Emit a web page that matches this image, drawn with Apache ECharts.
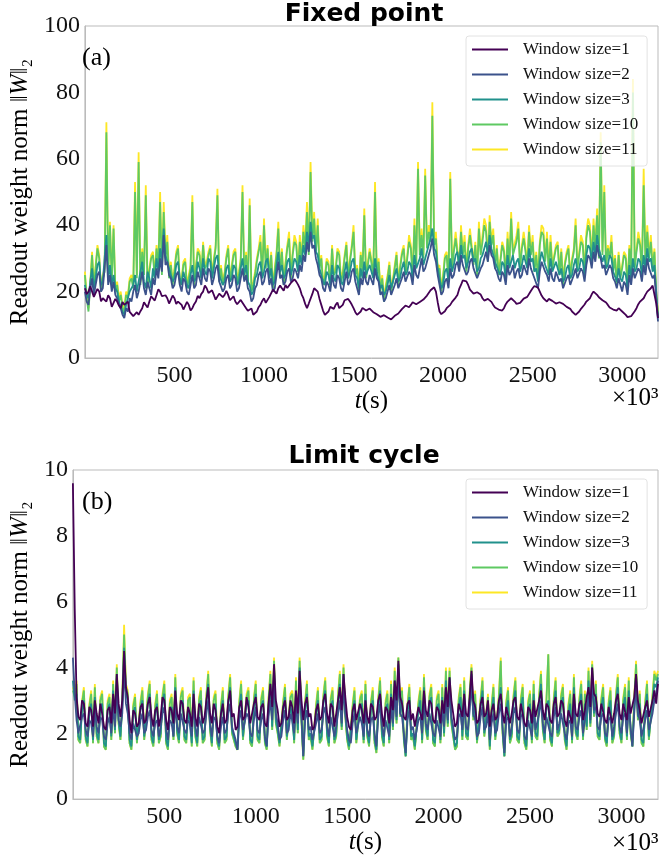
<!DOCTYPE html>
<html>
<head>
<meta charset="utf-8">
<script src="https://cdn.jsdelivr.net/npm/echarts@6/dist/echarts.min.js"></script>
<style>
  html, body { margin: 0; padding: 0; background: #fff; }
  #chart { width: 661px; height: 856px; }
</style>
</head>
<body>
<div id="chart"></div>
<script>
// time step between samples (units of 10^3 s)
const tStep = 10;
const names = ['Window size=1', 'Window size=2', 'Window size=3', 'Window size=10', 'Window size=11'];
const colors = ['#440154', '#3b528b', '#21918c', '#5ec962', '#fde725'];
const xTicks = [500, 1000, 1500, 2000, 2500, 3000];

// (a) fixed point
const fp1 = [
  21,19.2,20,21.6,21,18.4,19,20.8,20,17.1,18,17.9,17,18.9,18,15.4,16,17.8,17,15.8,
  15,16.9,16,15.6,17,13.9,14,12.6,12,13.8,13,14.1,15,16.8,16,15.2,17,18.6,18,17.3,
  19,20.7,20,18.6,19,18.9,18,16.4,17,18.8,18,16.3,17,17.2,16,14.6,15,16.9,16,14.3,
  15,16.2,17,18.7,18,19.3,20,21.8,21,19.6,20,20.4,19,17.6,18,19.4,20,18.3,19,20.2,
  19,17.4,18,18.6,17,16.2,16,17.5,17,15.8,15,14.2,14,14.9,13,12.4,14,15.3,16,17.2,
  18,16.6,17,18.4,19,20.6,20,19.4,21,21.8,21,20.3,22,21.1,21,22.6,22,23.7,23,22.1,
  21,19.2,18,16.3,15,16.4,17,19.3,21,21.6,20,17.8,16,14.2,13,13.6,14,15.4,15,14.8,
  16,16.7,15,15.2,16,17.4,18,17.8,17,16.1,15,13.8,13,13.4,14,15.1,15,14.3,14,14.9,
  15,13.8,14,13.2,13,12.4,12,12.9,13,12.2,12,11.6,12,12.7,13,13.4,14,14.7,15,15.8,
  16,15.3,16,16.8,17,16.2,16,16.9,17,17.6,18,18.8,19,20.4,21,21.3,20,16.8,14,13.2,
  13,14.1,15,15.4,16,16.9,17,18.2,19,20.8,22,23.4,24,23.1,22,20.6,20,19.4,19,19.8,
  20,19.1,18,17.3,17,17.8,18,16.9,16,15.2,15,14.6,14,14.3,15,16.2,17,17.6,18,17.4,
  17,16.3,16,16.6,17,17.9,18,18.4,19,20.2,21,21.7,22,21.2,20,18.8,18,17.6,17,17.8,
  18,17.2,17,16.4,16,16.8,17,16.3,16,15.4,15,14.8,14,13.4,13,13.6,14,14.8,15,16.1,
  17,17.6,18,19.2,20,19.6,19,18.3,18,17.4,17,16.7,16,15.2,15,14.6,14,14.3,15,14.4,
  14,13.6,13,12.3,12,12.6,13,14.1,15,16.2,17,17.4,18,19.1,20,20.6,21,21.8,22,16.5,
  12];
const fp2 = [
  20,17,16,21,24,19,22,25,26,20,21,27,34,22,25,20,23,19,18,16,
  15,13,12,15,14,18,17,20,22,18,20,23,26,21,19,23,21,19,24,22,
  27,24,30,26,37,28,29,25,24,21,22,25,26,22,20,24,23,20,19,22,
  25,21,22,26,24,22,27,24,23,27,26,22,24,27,28,23,23,20,21,24,
  25,21,22,25,24,20,21,24,27,23,25,21,20,17,18,21,22,25,26,22,
  23,26,27,22,24,20,21,25,29,24,25,22,23,26,27,23,24,27,26,24,
  28,26,31,29,35,32,38,33,34,30,28,25,24,21,20,23,22,20,25,22,
  21,25,24,21,20,23,26,22,23,26,27,23,21,19,24,22,26,23,22,25,
  25,22,27,24,23,19,20,17,18,20,22,19,19,22,24,21,21,24,26,23,
  23,26,25,22,28,25,24,27,30,26,27,29,31,33,36,31,29,25,22,19,
  20,23,24,21,27,24,25,28,29,26,31,28,28,25,26,29,30,27,27,24,
  24,27,28,30,32,29,34,31,30,27,26,24,23,26,25,22,28,25,26,28,
  24,26,27,24,25,28,28,25,30,27,27,24,24,21,26,29,29,26,25,23,
  27,24,23,26,26,23,24,21,21,24,25,22,22,25,27,24,24,27,26,23,
  28,31,30,27,32,29,34,31,30,27,28,25,25,28,27,24,23,21,24,22,
  20,23,22,19,25,22,27,24,24,27,26,23,28,25,30,27,27,24,25,18,
  11];
const fp3 = [
  22,19,18,23,27,21,24,28,29,22,23,30,37,24,28,22,25,21,20,17,
  17,14,13,16,16,20,20,22,25,20,23,26,29,23,21,26,24,21,27,24,
  30,26,33,29,39,31,31,27,27,23,24,28,29,24,22,26,26,22,21,25,
  28,23,24,29,27,24,30,26,25,30,29,24,27,30,31,25,25,22,23,27,
  28,23,24,28,27,22,23,27,30,25,28,23,22,19,20,24,25,28,29,24,
  26,29,30,24,27,22,23,28,32,26,28,24,25,29,30,25,27,30,29,26,
  31,28,34,31,38,34,41,36,37,32,31,27,27,23,22,26,25,22,28,24,
  23,28,27,23,22,26,29,24,26,29,30,25,24,21,27,24,29,25,25,28,
  28,24,30,26,26,21,22,19,20,22,25,21,21,25,27,23,24,27,29,25,
  26,29,28,24,31,27,27,30,33,28,30,32,34,36,39,33,32,27,24,21,
  22,26,27,23,30,26,28,31,32,28,34,30,31,27,29,32,33,29,30,26,
  27,30,31,33,35,31,37,33,33,29,29,26,25,29,28,24,31,27,29,31,
  27,29,30,26,28,31,31,27,33,29,30,26,27,23,29,32,32,28,28,25,
  30,26,26,29,29,25,27,23,24,27,28,24,25,28,30,26,27,30,29,25,
  31,34,33,29,35,31,37,33,33,29,31,27,28,31,30,26,26,23,27,24,
  23,26,25,21,28,24,30,26,27,30,29,25,31,27,33,29,30,26,28,20,
  12];
const fp10 = [
  25,18,14,22,31,21,27,33,30,20,24,26,68,25,40,23,39,20,22,17,
  19,15,14,19,18,23,24,21,50,24,59,22,32,25,49,21,26,30,31,24,
  33,27,47,25,44,30,35,24,28,22,26,31,33,22,23,28,29,21,24,27,
  47,22,27,32,31,24,34,27,28,31,33,24,29,33,49,23,27,22,25,30,
  33,23,27,31,32,22,25,29,50,24,31,22,46,20,22,25,29,32,35,24,
  40,27,33,24,31,21,26,31,39,25,32,22,28,33,36,24,31,35,34,26,
  35,29,38,33,44,31,56,35,42,32,40,27,30,22,24,29,28,21,33,25,
  26,32,31,23,25,30,34,24,29,33,38,25,27,20,31,26,43,24,28,32,
  32,25,50,24,29,20,24,17,21,24,28,20,23,27,31,22,27,31,33,25,
  30,35,33,24,40,28,57,31,37,30,55,33,38,35,73,34,36,26,27,20,
  24,30,31,23,54,27,32,36,36,27,38,31,35,26,33,37,37,28,34,25,
  39,31,35,40,38,29,41,34,37,27,33,25,29,34,32,24,36,28,42,31,
  31,35,39,27,33,36,36,28,38,31,35,26,31,24,34,38,37,29,36,26,
  35,27,30,33,34,25,32,22,28,31,33,24,29,32,40,27,31,35,34,25,
  36,40,38,29,40,33,43,30,65,31,50,27,33,30,35,26,30,22,31,24,
  27,31,30,21,33,25,80,27,32,36,34,26,52,29,38,30,35,27,32,19,
  13];
const fp11 = [
  26,19,15,23,32,22,28,34,31,21,25,27,71,26,41,24,40,21,23,18,
  20,16,15,20,19,24,25,22,53,25,62,23,33,26,52,22,27,31,32,25,
  34,28,50,26,47,31,37,25,29,23,27,32,34,23,24,29,30,22,25,28,
  49,23,28,33,32,25,35,28,29,32,34,25,30,34,51,24,28,23,26,31,
  34,24,28,32,33,23,26,30,52,25,32,23,48,21,23,26,30,33,37,25,
  42,28,34,25,32,22,27,32,41,26,33,23,29,34,38,25,32,37,35,27,
  37,30,40,34,47,32,59,37,44,33,42,28,31,23,25,30,29,22,34,26,
  27,33,32,24,26,31,35,25,30,34,40,26,28,21,32,27,45,25,29,33,
  33,26,53,25,30,21,25,18,22,25,29,21,24,28,32,23,28,32,34,26,
  31,37,34,25,42,29,59,32,39,31,57,34,40,37,77,35,38,27,28,21,
  25,31,32,24,56,28,33,38,38,28,40,32,37,27,34,39,39,29,35,26,
  41,32,37,42,40,30,43,35,39,28,34,26,30,35,33,25,38,29,44,32,
  32,37,41,28,34,38,38,29,40,32,37,27,32,25,35,40,39,30,38,27,
  37,28,31,34,35,26,33,23,29,32,34,25,30,33,42,28,32,37,35,26,
  38,42,40,30,42,34,45,31,68,32,52,28,34,31,37,27,31,23,32,25,
  28,32,31,22,34,26,84,28,33,38,35,27,57,30,40,31,37,28,33,20,
  14];

// (b) limit cycle
const lc1 = [
  9.6,5.8,3.1,2.5,2.4,3.0,2.9,2.3,2.2,2.8,2.7,2.2,3.0,2.6,2.3,2.9,2.6,2.2,2.1,2.7,
  2.8,2.3,3.2,2.6,3.8,2.9,2.5,3.0,4.5,3.4,3.1,2.4,2.0,2.7,2.6,2.2,2.3,2.8,2.9,2.3,
  2.4,2.9,3.1,2.5,2.2,2.7,2.8,2.2,2.5,3.1,3.0,2.4,2.1,2.8,2.7,2.3,3.3,2.6,2.4,3.0,
  2.9,2.4,2.3,2.8,2.6,2.2,3.2,2.5,2.2,2.9,2.8,2.3,2.5,3.0,3.4,2.6,2.3,2.9,2.7,2.2,
  2.0,2.6,2.9,2.3,2.4,3.0,3.3,2.5,2.6,2.1,2.2,2.8,3.0,2.4,2.5,3.1,2.8,2.3,2.3,2.9,
  3.1,2.5,2.4,2.8,2.9,2.3,2.2,2.9,3.5,2.8,4.1,3.0,2.7,2.2,2.3,2.8,3.0,2.4,2.5,3.0,
  2.8,2.3,3.3,2.6,3.9,3.0,2.4,2.9,3.1,2.5,2.6,2.1,2.2,2.7,2.9,2.4,2.5,3.0,3.2,2.6,
  2.3,2.9,2.8,2.2,2.6,3.0,3.4,2.7,3.8,3.1,2.5,2.2,2.1,2.7,2.9,2.4,2.4,2.9,2.7,2.3,
  3.0,2.5,2.3,2.9,2.8,2.4,2.5,3.0,3.2,2.6,2.2,2.8,2.7,2.3,3.1,2.7,3.6,3.0,4.2,3.1,
  2.9,2.5,2.4,2.9,3.0,2.4,2.6,2.2,2.2,2.8,2.8,2.4,3.3,2.7,2.5,3.0,2.9,2.4,2.3,2.8,
  2.7,2.3,3.0,2.6,3.4,2.8,3.7,3.0,2.6,2.2,2.3,2.9,2.9,2.5,3.2,2.6,2.5,3.1,3.9,3.0,
  2.8,2.3,2.4,2.9,3.1,2.5,2.6,3.0,2.2,2.7,2.9,2.4,2.5,3.0,3.2,2.6,2.3,2.8,2.8,2.3,
  2.6,3.0,3.1,2.5,2.4,2.9,2.9,2.3,2.2,2.8,2.7,2.3,3.0,2.5,2.5,3.0,3.3,2.7,2.4,2.9,
  2.8,2.4,2.3,2.9,3.1,2.5,2.6,3.0,2.9,2.4,2.2,2.7,2.7,2.3,3.2,2.6,2.5,2.9,3.0,2.4,
  2.7,3.1,3.4,2.8,4.0,3.2,3.1,2.6,2.5,2.9,2.9,2.4,2.3,2.8,2.8,2.3,2.6,3.0,3.2,2.6,
  2.4,2.9,2.9,2.4,3.1,2.6,2.6,3.1,3.8,3.0,2.7,2.3,2.3,2.8,3.0,2.5,2.5,3.0,3.3,2.9,
  3.5];
const lc2 = [
  4.3,3.2,2.4,2.0,2.0,2.5,2.6,2.1,1.9,2.4,2.3,1.9,2.7,2.2,2.0,2.5,2.4,1.9,1.8,2.3,
  2.5,2.0,2.8,2.2,3.4,2.4,2.2,2.6,4.0,2.9,2.6,2.0,1.8,2.3,2.3,1.9,2.0,2.4,2.6,2.0,
  2.1,2.5,2.7,2.1,1.9,2.3,2.4,1.9,2.2,2.6,2.8,2.1,1.8,2.4,2.3,1.9,2.9,2.2,2.0,2.6,
  2.6,2.1,2.0,2.4,2.3,1.9,2.9,2.2,1.9,2.5,2.5,2.0,2.1,2.6,3.0,2.3,1.9,2.5,2.4,1.9,
  1.7,2.2,2.5,2.0,2.1,2.6,2.9,2.2,2.2,1.8,1.5,2.4,2.7,2.1,2.1,2.6,2.5,2.0,1.9,2.4,
  2.8,2.1,2.0,2.4,2.6,1.9,1.6,2.5,3.0,2.4,3.7,2.6,2.3,1.8,1.9,2.4,2.7,2.0,2.1,2.6,
  2.4,2.0,2.9,2.3,3.5,2.5,1.3,2.4,2.7,2.1,2.2,1.8,1.8,2.3,2.6,2.0,2.1,2.6,2.8,2.2,
  1.9,2.5,2.5,1.9,2.2,2.6,3.0,2.3,3.4,2.6,2.1,1.8,1.7,2.3,2.6,2.0,2.0,2.5,2.3,1.9,
  2.7,2.1,1.9,2.4,2.5,2.0,1.6,2.5,2.9,2.2,1.9,2.4,2.4,1.9,2.8,2.3,3.2,2.5,3.8,2.6,
  2.5,2.0,1.4,2.4,2.7,2.1,2.2,1.8,1.8,2.4,2.5,2.0,3.0,2.3,2.1,2.6,2.6,2.0,1.9,2.4,
  2.4,1.9,2.7,2.2,3.1,2.4,3.3,2.5,2.2,1.8,1.9,2.5,2.6,2.1,2.9,2.2,2.1,2.7,3.5,2.6,
  2.4,1.9,2.0,2.5,2.8,2.1,2.2,2.6,1.8,2.3,2.6,2.0,2.1,2.6,2.9,2.2,1.4,2.4,2.5,1.9,
  2.2,2.6,2.8,2.1,2.0,2.5,2.6,1.9,1.8,2.4,2.4,1.9,2.7,2.1,2.1,2.6,3.0,2.3,2.0,2.5,
  2.5,2.0,1.9,2.5,2.8,2.1,2.3,2.6,2.6,2.0,1.8,2.3,2.4,1.9,2.9,2.2,2.1,2.5,2.7,2.0,
  2.4,2.7,3.1,2.4,3.6,2.7,2.8,2.2,2.1,2.5,2.6,2.0,1.9,2.4,2.5,1.9,2.2,2.6,2.9,2.2,
  2.0,2.5,2.6,2.0,2.8,2.2,1.6,2.6,3.4,2.6,2.4,1.9,1.9,2.4,2.7,2.1,2.1,2.6,3.0,3.2,
  3.6];
const lc3 = [
  3.6,3.0,3.2,1.9,1.8,2.7,3.0,1.9,1.7,2.6,2.9,1.8,3.1,2.0,1.8,2.8,2.9,1.7,1.6,2.7,
  2.9,1.9,3.3,2.1,3.8,2.4,1.9,2.8,4.6,3.2,3.0,1.8,1.6,2.6,2.8,1.8,1.8,2.7,3.0,1.9,
  1.9,2.9,3.2,1.9,1.7,2.6,2.9,1.8,2.0,2.9,3.2,1.8,1.6,2.7,2.8,1.9,3.4,2.1,1.8,2.9,
  3.0,1.9,1.8,2.8,2.8,1.7,3.3,2.0,1.7,2.8,3.0,1.8,1.9,2.9,3.5,2.2,1.7,2.8,2.9,1.8,
  1.6,2.6,3.0,1.8,1.9,2.9,3.4,2.1,2.1,1.7,1.5,2.7,3.2,1.9,1.9,2.9,3.0,1.8,1.7,2.8,
  3.2,1.9,1.8,2.8,3.0,1.8,1.6,2.8,3.5,2.2,4.0,2.4,2.1,1.7,1.7,2.7,3.1,1.9,1.9,2.9,
  2.9,1.8,3.3,2.1,4.0,2.5,1.3,2.7,3.2,1.9,2.0,1.6,1.6,2.6,3.0,1.8,1.9,2.9,3.3,2.0,
  1.7,2.8,3.0,1.8,2.0,2.9,3.5,2.2,3.8,2.6,1.9,1.6,1.6,2.6,3.0,1.8,1.8,2.8,2.9,1.8,
  3.2,2.0,1.7,2.7,3.0,1.8,1.5,2.8,3.3,2.0,1.7,2.7,2.9,1.8,3.2,2.2,3.6,2.4,4.1,2.6,
  3.0,1.9,1.3,2.6,3.1,1.9,2.0,1.6,1.6,2.7,3.0,1.8,3.4,2.2,1.9,2.9,3.1,1.8,1.7,2.8,
  2.9,1.8,3.1,2.0,3.6,2.3,3.7,2.4,2.0,1.6,1.7,2.8,3.1,1.9,3.3,2.0,1.9,3.0,3.8,2.5,
  2.9,1.8,1.8,2.8,3.3,2.0,2.0,2.9,1.6,2.6,3.1,1.9,1.9,2.9,3.4,2.1,1.3,2.7,3.0,1.8,
  2.0,2.9,3.3,1.9,1.8,2.8,3.1,1.8,1.6,2.7,2.9,1.8,3.2,2.0,1.9,2.9,3.5,2.2,1.8,2.8,
  3.0,1.9,1.7,2.8,3.3,2.0,2.1,2.9,3.1,1.9,1.6,2.6,2.9,1.8,3.4,2.1,1.9,2.8,3.2,1.9,
  2.9,2.2,3.6,2.3,4.0,2.6,3.2,2.0,1.9,2.8,3.1,1.9,1.7,2.7,3.0,1.8,2.0,2.9,3.4,2.1,
  1.8,2.8,3.1,1.9,3.3,2.1,1.6,2.8,3.8,2.5,2.9,1.8,1.7,2.7,3.2,1.9,1.9,2.9,3.5,3.4,
  3.7];
const lc10 = [
  3.3,3.1,3.5,1.8,1.7,2.9,3.3,1.8,1.6,2.8,3.2,1.7,3.4,1.9,1.7,3.0,3.2,1.6,1.5,2.9,
  3.1,1.8,3.5,2.0,4.0,2.3,1.8,3.0,5.0,3.4,3.2,1.7,1.5,2.8,3.1,1.7,1.7,2.9,3.3,1.8,
  1.8,3.1,3.5,1.8,1.6,2.8,3.2,1.7,1.9,3.1,3.5,1.7,1.5,2.9,3.1,1.8,3.7,2.0,1.7,3.1,
  3.3,1.8,1.7,3.0,3.1,1.6,3.6,1.9,1.6,3.0,3.3,1.7,1.8,3.1,3.8,2.1,1.6,3.0,3.2,1.7,
  1.5,2.8,3.3,1.7,1.8,3.1,3.7,2.0,2.0,1.6,1.5,2.9,3.5,1.8,1.8,3.1,3.3,1.7,1.6,3.0,
  3.5,1.8,1.7,3.0,3.3,1.7,1.5,3.0,3.8,2.1,4.2,2.3,2.0,1.6,1.6,2.9,3.4,1.8,1.8,3.1,
  3.2,1.7,3.6,2.0,4.2,2.4,1.2,2.9,3.5,1.8,1.9,1.5,1.5,2.8,3.3,1.7,1.8,3.1,3.6,1.9,
  1.6,3.0,3.3,1.7,1.9,3.1,3.8,2.1,4.0,2.5,1.8,1.5,1.5,2.8,3.3,1.7,1.7,3.0,3.2,1.7,
  3.5,1.9,1.6,2.9,3.3,1.7,1.4,3.0,3.6,1.9,1.6,2.9,3.2,1.7,3.5,2.1,3.9,2.3,4.3,2.5,
  3.3,1.8,1.3,2.8,3.4,1.8,1.9,1.5,1.5,2.9,3.3,1.7,3.7,2.1,1.8,3.1,3.4,1.7,1.6,3.0,
  3.2,1.7,3.4,1.9,3.9,2.2,3.9,2.3,1.9,1.5,1.6,3.0,3.4,1.8,3.6,1.9,1.8,3.2,4.0,2.4,
  3.2,1.7,1.7,3.0,3.6,1.9,1.9,3.1,1.5,2.8,3.4,1.8,1.8,3.1,4.2,2.0,1.3,2.9,3.3,1.7,
  1.9,3.1,3.6,1.8,1.7,3.0,3.4,1.7,1.5,2.9,3.2,1.7,3.5,1.9,1.8,3.1,3.8,2.1,1.7,3.0,
  4.4,1.8,1.6,3.0,3.6,1.9,2.0,3.1,3.4,1.8,1.5,2.8,3.2,1.7,3.7,2.0,1.8,3.0,3.5,1.8,
  3.2,2.1,3.9,2.2,4.1,2.5,3.5,1.9,1.8,3.0,3.4,1.8,1.6,2.9,3.3,1.7,1.9,3.1,3.7,2.0,
  1.7,3.0,3.4,1.8,3.6,2.0,1.6,3.0,4.1,2.4,3.2,1.7,1.6,2.9,3.5,1.8,1.8,3.1,3.8,3.6,
  3.8];
const lc11 = [
  3.4,3.2,3.6,1.8,1.7,3.0,3.4,1.8,1.6,2.9,3.3,1.7,3.5,1.9,1.7,3.1,3.3,1.6,1.5,3.0,
  3.2,1.8,3.6,2.0,4.1,2.3,1.8,3.1,5.3,3.5,3.3,1.7,1.5,2.9,3.2,1.7,1.7,3.0,3.4,1.8,
  1.8,3.2,3.6,1.8,1.6,2.9,3.3,1.7,1.9,3.2,3.6,1.7,1.5,3.0,3.2,1.8,3.8,2.0,1.7,3.2,
  3.4,1.8,1.7,3.1,3.2,1.6,3.7,1.9,1.6,3.1,3.4,1.7,1.8,3.2,3.9,2.1,1.6,3.1,3.3,1.7,
  1.5,2.9,3.4,1.7,1.8,3.2,3.8,2.0,2.0,1.6,1.5,3.0,3.6,1.8,1.8,3.2,3.4,1.7,1.6,3.1,
  3.6,1.8,1.7,3.1,3.4,1.7,1.5,3.1,3.9,2.1,4.3,2.3,2.0,1.6,1.6,3.0,3.5,1.8,1.8,3.2,
  3.3,1.7,3.7,2.0,4.3,2.4,1.2,3.0,3.6,1.8,1.9,1.5,1.5,2.9,3.4,1.7,1.8,3.2,3.7,1.9,
  1.6,3.1,3.4,1.7,1.9,3.2,3.9,2.1,4.1,2.5,1.8,1.5,1.5,2.9,3.4,1.7,1.7,3.1,3.3,1.7,
  3.6,1.9,1.6,3.0,3.4,1.7,1.4,3.1,3.7,1.9,1.6,3.0,3.3,1.7,3.6,2.1,4.0,2.3,4.3,2.5,
  3.4,1.8,1.3,2.9,3.5,1.8,1.9,1.5,1.5,3.0,3.4,1.7,3.8,2.1,1.8,3.2,3.5,1.7,1.6,3.1,
  3.3,1.7,3.5,1.9,4.0,2.2,4.0,2.3,1.9,1.5,1.6,3.1,3.5,1.8,3.7,1.9,1.8,3.3,4.1,2.4,
  3.3,1.7,1.7,3.1,3.7,1.9,1.9,3.2,1.5,2.9,3.5,1.8,1.8,3.2,4.3,2.0,1.3,3.0,3.4,1.7,
  1.9,3.2,3.7,1.8,1.7,3.1,3.5,1.7,1.5,3.0,3.3,1.7,3.6,1.9,1.8,3.2,3.9,2.1,1.7,3.1,
  4.4,1.8,1.6,3.1,3.7,1.9,2.0,3.2,3.5,1.8,1.5,2.9,3.3,1.7,3.8,2.0,1.8,3.1,3.6,1.8,
  3.3,2.1,4.0,2.2,4.2,2.5,3.6,1.9,1.8,3.1,3.5,1.8,1.6,3.0,3.4,1.7,1.9,3.2,3.8,2.0,
  1.7,3.1,3.5,1.8,3.7,2.0,1.6,3.1,4.2,2.4,3.3,1.7,1.6,3.0,3.6,1.8,1.8,3.2,3.9,3.7,
  3.9];

const serif = 'Liberation Serif';
const panelA = [fp1, fp2, fp3, fp10, fp11];
const panelB = [lc1, lc2, lc3, lc10, lc11];

function toPairs(vals) {
  return vals.map((v, i) => [i * tStep, v]);
}

function makeSeries(panel, idx) {
  let out = [];
  // draw the largest window first so that window size 1 ends up on top
  for (let k = panel.length - 1; k >= 0; k--) {
    out.push({
      name: names[k],
      type: 'line',
      xAxisIndex: idx,
      yAxisIndex: idx,
      symbol: 'none',
      color: colors[k],
      lineStyle: { width: 1.8, color: colors[k] },
      data: toPairs(panel[k])
    });
  }
  return out;
}

function xAxis(idx) {
  return {
    gridIndex: idx,
    type: 'value',
    min: 0,
    max: 3200,
    interval: 500,
    name: '{i|t}(s)',
    nameLocation: 'middle',
    nameGap: 27,
    nameTextStyle: {
      fontFamily: serif, fontSize: 25, color: '#000',
      rich: { i: { fontFamily: serif, fontSize: 25, fontStyle: 'italic', color: '#000' } }
    },
    axisLine: { lineStyle: { color: '#bbb' } },
    axisTick: { show: false },
    splitLine: { show: false },
    axisLabel: {
      fontFamily: serif, fontSize: 24, color: '#111', margin: 6,
      formatter: v => (xTicks.indexOf(v) >= 0 ? String(v) : '')
    }
  };
}

function yAxis(idx, max, step) {
  return {
    gridIndex: idx,
    type: 'value',
    min: 0,
    max: max,
    interval: step,
    name: 'Readout weight norm \u2016{i|W}\u2016\u2082',
    nameLocation: 'middle',
    nameGap: 38,
    nameTextStyle: {
      fontFamily: serif, fontSize: 25, color: '#000',
      rich: { i: { fontFamily: serif, fontSize: 25, fontStyle: 'italic', color: '#000' } }
    },
    axisLine: { show: true, lineStyle: { color: '#bbb' } },
    axisTick: { show: false },
    splitLine: { show: false },
    axisLabel: { fontFamily: serif, fontSize: 24, color: '#111', margin: 5 }
  };
}

function legend(top) {
  return {
    data: names,
    orient: 'vertical',
    left: 466,
    top: top,
    icon: 'rect',
    itemWidth: 36,
    itemHeight: 2,
    itemGap: 8,
    padding: [5, 9, 8, 6],
    backgroundColor: 'rgba(255,255,255,0.8)',
    borderColor: '#e2e2e2',
    borderWidth: 1,
    borderRadius: 3,
    selectedMode: false,
    textStyle: { fontFamily: serif, fontSize: 17, color: '#111', lineHeight: 17, padding: [0, 0, 0, 10] }
  };
}

function label(text, x, y, font) {
  return {
    type: 'text', x: x, y: y, z: 100,
    style: { text: text, font: font, fill: '#000', textAlign: 'left', textVerticalAlign: 'top' }
  };
}

const chart = echarts.init(document.getElementById('chart'));
chart.setOption({
  animation: false,
  grid: [
    { left: 69, right: 2, top: 26, height: 332, show: true, borderColor: '#bbb', borderWidth: 1 },
    { left: 69, right: 2, top: 470, height: 333, show: true, borderColor: '#bbb', borderWidth: 1 }
  ],
  xAxis: [xAxis(0), xAxis(1)],
  yAxis: [yAxis(0, 100, 20), yAxis(1, 10, 2)],
  legend: [legend(36), legend(479)],
  graphic: [
    { type: 'text', x: 364, y: 2, style: { text: 'Fixed point', font: 'bold 25px "DejaVu Sans"', fill: '#000', textAlign: 'center', textVerticalAlign: 'top' } },
    { type: 'text', x: 364, y: 444, style: { text: 'Limit cycle', font: 'bold 25px "DejaVu Sans"', fill: '#000', textAlign: 'center', textVerticalAlign: 'top' } },
    label('(a)', 82, 45, '26px "Liberation Serif"'),
    label('(b)', 82, 489, '26px "Liberation Serif"'),
    label('\u00d710\u00b3', 612, 386, '25px "Liberation Serif"'),
    label('\u00d710\u00b3', 612, 831, '25px "Liberation Serif"')
  ],
  series: makeSeries(panelA, 0).concat(makeSeries(panelB, 1))
});
</script>
</body>
</html>
